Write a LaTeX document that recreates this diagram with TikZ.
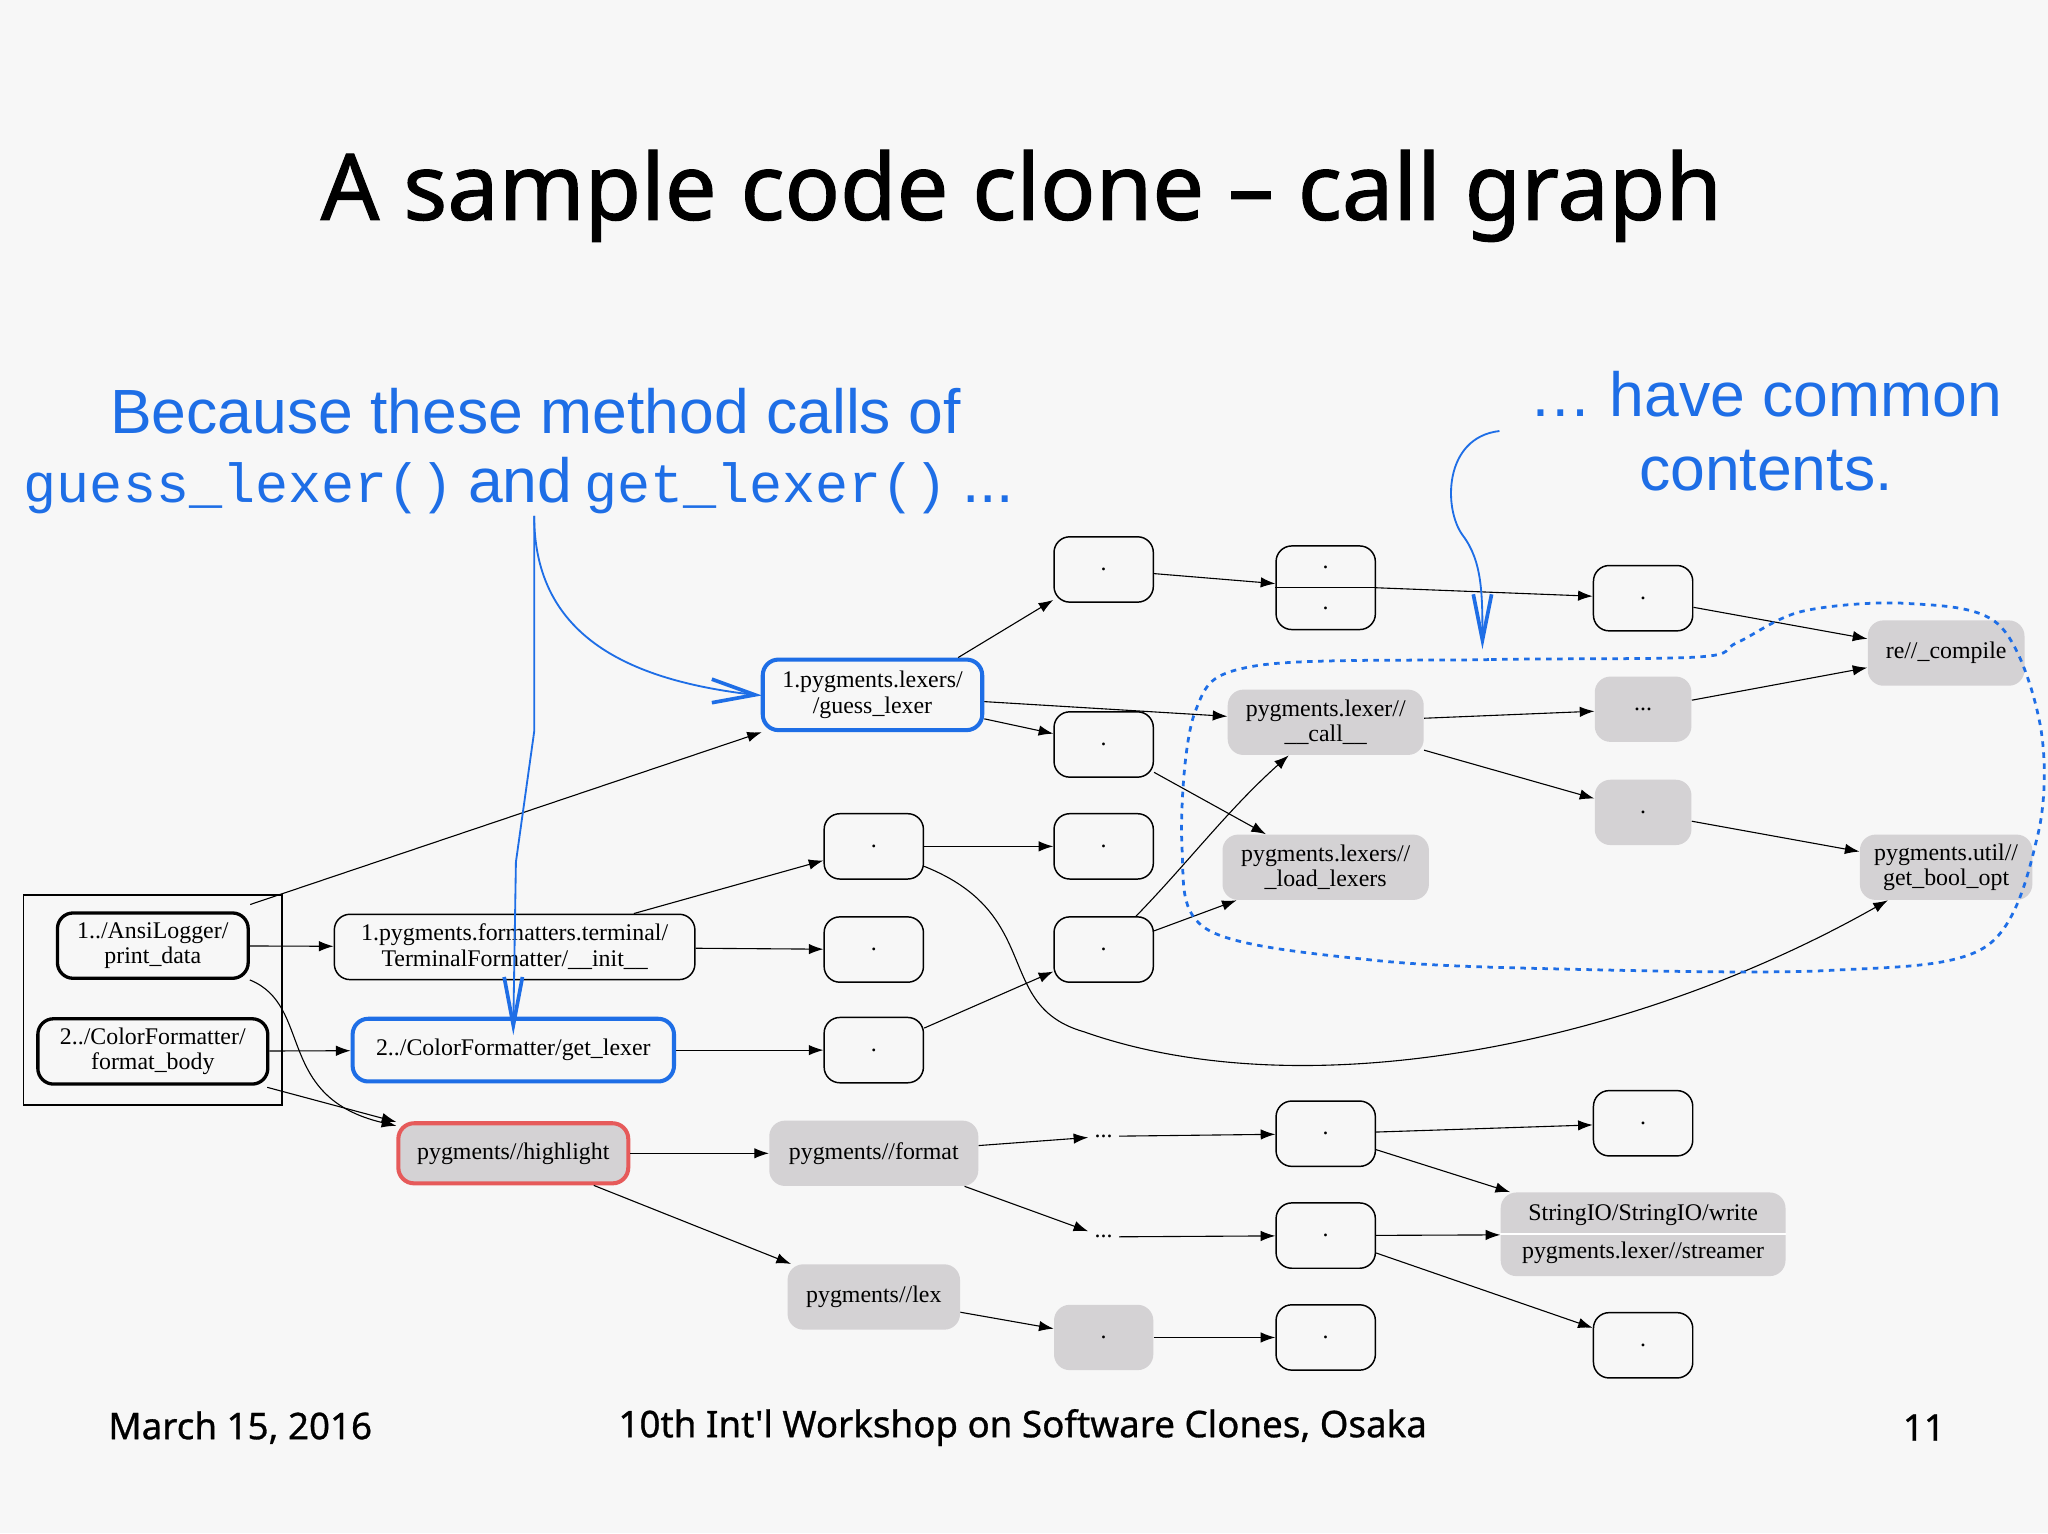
\documentclass[tikz,border=0pt]{standalone}
\usepackage{fontspec}
\setmainfont{Liberation Serif}
\newfontfamily\ttl{Noto Sans}
\newfontfamily\ars{Liberation Sans}
\newfontfamily\mon{Liberation Mono}
\usetikzlibrary{arrows.meta}
\definecolor{anno}{RGB}{30,110,230}
\definecolor{gfill}{RGB}{212,210,212}
\definecolor{hred}{RGB}{230,90,90}
\begin{document}
\begin{tikzpicture}[x=0.025cm,y=-0.025cm,
 font=\fontsize{13}{14}\selectfont,
 base/.style={rounded corners=0.3cm,align=center,inner sep=1pt,minimum height=1.25cm},
 dot/.style={base,draw,line width=0.8pt,minimum width=1.9cm},
 gnode/.style={base,fill=gfill},
 thick/.style={base,draw,line width=1.8pt},
 bl/.style={base,draw=anno,line width=2.2pt},
 e/.style={-{Latex[length=0.28cm,width=0.2cm]},line width=0.6pt},
 an/.style={anno,line width=1pt}]
\useasboundingbox (0,0) rectangle (1568,1174);
\fill[white!97!black] (0,0) rectangle (1568,1174);
\node[font=\ttl\fontsize{50}{58}\selectfont] (title) at (782,150) {\addfontfeature{FakeBold=1.2}A sample code clone – call graph};
% nodes
\node[dot] (d1) at (845,436) {.};
\node[dot,minimum height=1.6cm] (sp) at (1015,450) {.\\[8pt].};
\draw[line width=0.8pt] (sp.west) -- (sp.east);
\node[dot] (d3) at (1258,458) {.};
\node[gnode,minimum width=3cm] (rc) at (1490,500) {re//\_compile};
\node[bl,minimum width=4.2cm,minimum height=1.35cm] (gl) at (668,532) {1.pygments.lexers/\\/guess\_lexer};
\node[dot] (d4) at (845,570) {.};
\node[gnode,minimum width=3.75cm] (call) at (1015,553) {pygments.lexer//\\\_\_call\_\_};
\node[gnode,minimum width=1.85cm] (e1) at (1258,543) {...};
\node[gnode,minimum width=1.85cm] (gd) at (1258,622) {.};
\node[gnode,minimum width=3.95cm] (ll) at (1015,664) {pygments.lexers//\\\_load\_lexers};
\node[gnode,minimum width=3.3cm] (gb) at (1490,664) {pygments.util//\\get\_bool\_opt};
\node[dot] (d5) at (669,648) {.};
\node[dot] (d6) at (845,648) {.};
\node[dot] (d7) at (845,727) {.};
\node[dot] (d8) at (669,727) {.};
\node[dot,minimum width=6.9cm] (tf) at (394,725) {1.pygments.formatters.terminal/\\TerminalFormatter/\_\_init\_\_};
\node[thick,minimum width=3.65cm] (an) at (117,724) {1../AnsiLogger/\\print\_data};
\node[thick,minimum width=4.4cm] (cf) at (117,805) {2../ColorFormatter/\\format\_body};
\node[draw,line width=0.8pt,minimum width=4.95cm,minimum height=4.02cm] (box) at (117,765.5) {};
\node[bl,minimum width=6.15cm,minimum height=1.2cm] (gt) at (393,804) {2../ColorFormatter/get\_lexer};
\node[dot] (d9) at (669,804) {.};
\node[gnode,draw=hred,line width=2.2pt,minimum width=4.4cm,minimum height=1.15cm] (hl) at (393,883) {pygments//highlight};
\node[gnode,minimum width=4cm] (fm) at (669,883) {pygments//format};
\node (e2) at (845,870) {...};
\node (e3) at (845,947) {...};
\node[dot] (d10) at (1015,868) {.};
\node[dot] (d11) at (1015,946) {.};
\node[dot] (d12) at (1258,860) {.};
\node[gnode,minimum width=5.45cm,minimum height=1.6cm] (sio) at (1258,945) {StringIO/StringIO/write\\[7pt]pygments.lexer//streamer};
\draw[white,line width=1.2pt] (sio.west) -- (sio.east);
\node[dot] (d13) at (1258,1030) {.};
\node[gnode,minimum width=3.3cm] (lx) at (669,993) {pygments//lex};
\node[gnode,minimum width=1.9cm] (gd2) at (845,1024) {.};
\node[dot] (d14) at (1015,1024) {.};
% edges
\draw[e] (gl.north east) ++(-20,0) -- (d1);
\draw[e] (d1) -- (sp);
\draw[e] (sp.east) -- (d3);
\draw[e] (d3) -- (rc);
\draw[e] (gl) -- (call);
\draw[e] (gl) -- (d4);
\draw[e] (call) -- (e1);
\draw[e] (e1) -- (rc);
\draw[e] (call) -- (gd);
\draw[e] (gd) -- (gb);
\draw[e] (d4) -- (ll);
\draw[e] (d7) .. controls (910,660) and (940,620) .. (call);
\draw[e] (d7) -- (ll);
\draw[e] (d5) -- (d6);
\draw[e] (d5) .. controls (800,700) and (760,770) .. (830,790) .. controls (1000,850) and (1250,800) .. (gb);
\draw[e] (box.north east) ++(-25,8) -- (gl);
\draw[e] (an) -- (tf);
\draw[e] (tf) -- (d5);
\draw[e] (tf) -- (d8);
\draw[e] (cf) -- (gt);
\draw[e] (an.south east) .. controls (240,770) and (210,840) .. (hl);
\draw[e] (box.south east) ++(-12,-14) -- (hl);
\draw[e] (gt) -- (d9);
\draw[e] (d9) -- (d7);
\draw[e] (hl) -- (fm);
\draw[e] (hl) -- (lx);
\draw[e] (fm) -- (e2);
\draw[e] (fm) -- (e3);
\draw[e] (e2) -- (d10);
\draw[e] (e3) -- (d11);
\draw[e] (d10) -- (d12);
\draw[e] (d10) -- (sio);
\draw[e] (d11) -- (sio);
\draw[e] (d11) -- (d13);
\draw[e] (lx) -- (gd2);
\draw[e] (gd2) -- (d14);
% annotations
\node[anno,font=\ars\fontsize{34}{40}\selectfont] (t1) at (410,315) {Because these method calls of};
\node[anno,anchor=west,inner sep=0pt] (t2) at (18,372) {{\mon\fontsize{30}{36}\selectfont guess\_lexer()}\hspace{0.6em}{\ars\fontsize{34}{40}\selectfont and}\hspace{0.5em}{\mon\fontsize{30}{36}\selectfont get\_lexer()}\hspace{0.6em}{\ars\fontsize{34}{40}\selectfont ...}};
\node[anno,align=center,font=\ars\fontsize{34}{40}\selectfont] (t3) at (1352,330) {\dots\ have common\\contents.};
\coordinate (s1) at (409,395);
\coordinate (g1) at (578,532);
\coordinate (g2) at (393,785);
\draw[an] (s1) .. controls (409,480) and (470,520) .. (g1);
\draw[an,line width=2pt] (545,520) -- (g1) -- (545,538);
\draw[an] (s1) -- (409,560) -- (395,660) -- (g2);
\draw[an,line width=2pt] (386,748) -- (g2) -- (400,748);
\coordinate (s3) at (1148,330);
\coordinate (g3) at (1135,490);
\draw[an] (s3) .. controls (1105,335) and (1105,390) .. (1120,410) .. controls (1135,430) and (1135,455) .. (g3);
\draw[an,line width=2pt] (1128,455) -- (g3) -- (1142,455);
\draw[anno,line width=1.5pt,dash pattern=on 3pt off 3pt] plot[smooth cycle,tension=0.55] coordinates {(1300,503) (1140,505) (960,510) (915,545) (905,650) (925,712) (1050,735) (1200,742) (1400,743) (1520,725) (1560,640) (1562,555) (1530,478) (1460,462) (1380,468) (1330,492)};
% footer
\node[font=\ttl\fontsize{20}{24}\selectfont,anchor=west] (f1) at (78,1093) {\addfontfeature{FakeBold=0.8}March 15, 2016};
\node[font=\ttl\fontsize{20}{24}\selectfont] (f2) at (783,1093) {\addfontfeature{FakeBold=0.8}10th Int'l Workshop on Software Clones, Osaka};
\node[font=\ttl\fontsize{20}{24}\selectfont] (f3) at (1473,1093) {\addfontfeature{FakeBold=0.8}11};
\end{tikzpicture}
\end{document}
